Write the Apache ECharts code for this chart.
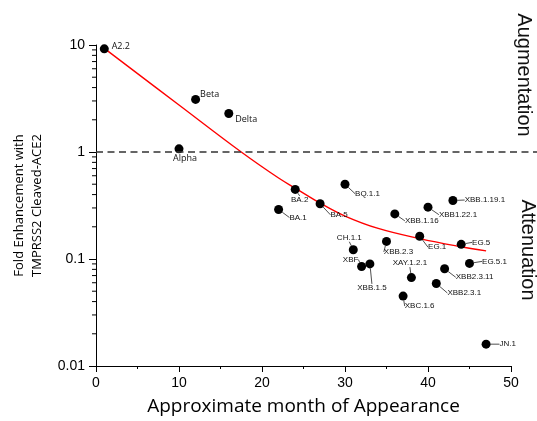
<!DOCTYPE html>
<html>
<head>
<meta charset="utf-8">
<script src="https://cdn.jsdelivr.net/npm/echarts@6/dist/echarts.min.js"></script>
<style>html,body{margin:0;padding:0;background:#fff;}#c{width:537px;height:421px;}</style>
</head>
<body>
<div id="c"></div>
<script>
// ---- data ----
const variantNames = ['A2.2','Alpha','Beta','Delta','BA.1','BA.2','BA.5','BQ.1.1','CH.1.1','XBF','XBB.1.5','XBB.2.3','XBB.1.16','XBC.1.6','XAY.1.2.1','EG.1','XBB1.22.1','XBB2.3.1','XBB2.3.11','XBB.1.19.1','EG.5','EG.5.1','JN.1'];
const months = [1,10,12,16,22,24,27,30,31,32,33,35,36,37,38,39,40,41,42,43,44,45,47];
const foldEnhancement = [9.2,1.07,3.1,2.29,0.29,0.447,0.328,0.5,0.122,0.085,0.09,0.146,0.264,0.045,0.067,0.163,0.305,0.059,0.081,0.352,0.137,0.091,0.016];
const fitMonths = [1,10,17.5,22,24,27,30,34,39,44,47];
const fitValues = [9.3,2.75,1.0,0.571,0.46,0.333,0.252,0.193,0.155,0.13,0.119];
const yTickValues = [0.01,0.1,1,10];
const yTickLabels = ['0.01','0.1','1','10'];
const yMinorTickValues = [0.02,0.03,0.04,0.05,0.06,0.07,0.08,0.09,0.2,0.3,0.4,0.5,0.6,0.7,0.8,0.9,2,3,4,5,6,7,8,9];
const thresholdValue = 1;

// ---- label placement (pixel offsets of label centre from point) ----
const labelDx = [16.5,6,14,17.5,19.5,4.5,19,22.5,-4,-11,2,12,27,16.5,-1.5,17.5,30,28,30,32,20,25,21.5];
const labelDy = [-2.5,10,-5,6,8,10.5,11,9.5,-12,-7,24,10.5,7,10,-14.5,11,7.5,9.5,8.5,-0.5,-2,-2,0];
const earlyCount = 4;

const chart = echarts.init(document.getElementById('c'), null, {renderer:'canvas'});

const scatterData = variantNames.map((n,i) => {
  const item = {name:n, value:[months[i], foldEnhancement[i]]};
  if (i < earlyCount) {
    item.labelLine = {show:false};
    item.label = {fontFamily:'Open Sans', fontSize:9, color:'#111'};
  }
  return item;
});

const option = {
  animation:false,
  backgroundColor:'#fff',
  grid:{left:96, top:45, width:415, height:321, containLabel:false},
  xAxis:{
    type:'value', min:0, max:50, interval:10,
    name:'Approximate month of Appearance', nameLocation:'middle', nameGap:31,
    nameTextStyle:{fontFamily:'Open Sans', fontSize:19, color:'#000'},
    axisLine:{lineStyle:{color:'#000', width:1}},
    axisTick:{inside:false, length:6, lineStyle:{color:'#000'}},
    minorTick:{show:true, splitNumber:2, length:3, lineStyle:{color:'#000'}},
    axisLabel:{margin:10, fontFamily:'Liberation Sans', fontSize:14, color:'#000'},
    splitLine:{show:false}
  },
  yAxis:{
    type:'log', logBase:10, min:0.01, max:10,
    name:'Fold Enhancement with\nTMPRSS2 Cleaved-ACE2', nameLocation:'middle', nameGap:50,
    nameTextStyle:{fontFamily:'Open Sans', fontSize:13, lineHeight:18, color:'#000'},
    axisLine:{show:true, lineStyle:{color:'#000', width:1}},
    axisTick:{show:true, inside:false, length:7, lineStyle:{color:'#000'}},
    axisLabel:{margin:11, fontFamily:'Liberation Sans', fontSize:14, color:'#000',
      formatter:function(v){
        let best=0; for(let i=0;i<yTickValues.length;i++){ if(Math.abs(Math.log10(v)-Math.log10(yTickValues[i]))<Math.abs(Math.log10(v)-Math.log10(yTickValues[best]))) best=i; }
        return yTickLabels[best];
      }},
    splitLine:{show:false}
  },
  series:[
    {
      type:'custom', coordinateSystem:'cartesian2d', silent:true, clip:false, z:1,
      data: yMinorTickValues.map(v => [0, v]),
      renderItem:function(params, api){
        const p = api.coord([0, api.value(1)]);
        return {type:'line', shape:{x1:p[0]-4, y1:p[1], x2:p[0], y2:p[1]}, style:{stroke:'#000', lineWidth:1}};
      }
    },
    {
      type:'line', name:'fit', smooth:0.4, symbol:'none', z:2,
      data: fitMonths.map((m,i)=>[m, fitValues[i]]),
      lineStyle:{color:'#ff0000', width:1.4}
    },
    {
      type:'scatter', name:'variants', symbol:'circle', symbolSize:9, z:3,
      itemStyle:{color:'#000', opacity:1},
      data: scatterData,
      label:{show:true, position:'inside', formatter:'{b}', fontFamily:'Liberation Sans', fontSize:8, color:'#111'},
      labelLine:{show:true, lineStyle:{color:'#222', width:0.8, opacity:1}},
      labelLayout:function(params){
        const i = params.dataIndex;
        return {dx: labelDx[i], dy: labelDy[i], align:'center', verticalAlign:'middle', hideOverlap:false};
      }
    }
  ]
};
chart.setOption(option);

const x0 = chart.convertToPixel({xAxisIndex:0}, 0);
const yThr = chart.convertToPixel({yAxisIndex:0}, thresholdValue);
chart.setOption({
  graphic:[
    {type:'line', shape:{x1:x0, y1:yThr, x2:537, y2:yThr}, style:{stroke:'#333', lineWidth:1.5, lineDash:[7,4.5]}, z:5},
    {type:'text', x:524, y:75, rotation:-Math.PI/2, style:{text:'Augmentation', font:'20px "Liberation Sans"', fill:'#111', align:'center', verticalAlign:'middle'}},
    {type:'text', x:528, y:250, rotation:-Math.PI/2, style:{text:'Attenuation', font:'20px "Liberation Sans"', fill:'#111', align:'center', verticalAlign:'middle'}}
  ]
});
</script>
</body>
</html>
